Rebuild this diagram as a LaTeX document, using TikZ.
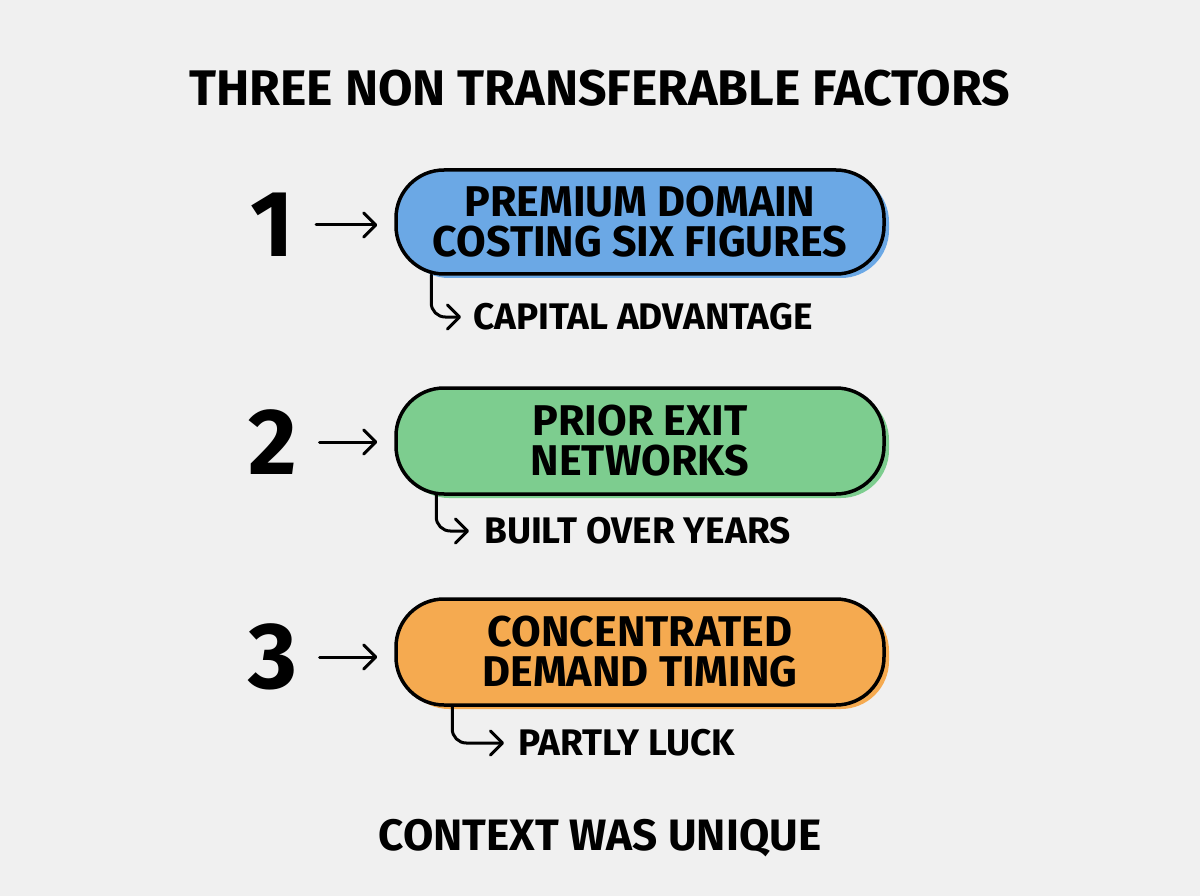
\documentclass[tikz,border=0pt]{standalone}
\usepackage{fontspec}
\setmainfont{Fira Sans}
\usetikzlibrary{positioning,arrows.meta,shadows}

\definecolor{bgcol}{HTML}{F0F0F0}
\definecolor{bluefill}{HTML}{6BA8E5}
\definecolor{greenfill}{HTML}{7DCD8F}
\definecolor{orangefill}{HTML}{F5AA50}

\tikzstyle{factor} = [draw=black, line width=3.5pt, rectangle, rounded corners=48pt, minimum width=488pt, minimum height=104pt, align=center, inner sep=0pt, font=\fontsize{43}{40}\selectfont\bfseries]
\tikzstyle{number} = [inner sep=0pt, font=\fontsize{94}{94}\selectfont\bfseries]
\tikzstyle{note} = [anchor=west, inner sep=0pt, font=\fontsize{37}{40}\selectfont\bfseries]
\tikzstyle{heading} = [inner sep=0pt, font=\fontsize{50}{54}\selectfont\bfseries]
\tikzstyle{pointer} = [-{Straight Barb[length=12pt,width=24pt,line width=3pt,round]}, line width=3pt, line cap=round]

\begin{document}
\begin{tikzpicture}[x=1pt, y=-1pt]
	\fill[bgcol] (0,0) rectangle (1200,896);
	\useasboundingbox (0,0) rectangle (1200,896);

	\node[heading] (title) at (600,88) {THREE NON TRANSFERABLE FACTORS};

	% factor 1
	\node[number] (n1) at (272,225) {1};
	\node[factor, fill=bluefill, general shadow={fill=bluefill, shadow xshift=5pt, shadow yshift=-4pt}] (f1) at (640,222) {PREMIUM DOMAIN\\COSTING SIX FIGURES};
	\node[note] (c1) at (473,317) {CAPITAL ADVANTAGE};
	\draw[pointer] ([xshift=22pt]n1.east) -- ([xshift=-17pt]f1.west |- n1.east);
	\draw[pointer, rounded corners=14pt] ([xshift=37pt, yshift=1pt]f1.south west) |- ([xshift=-12pt]c1.west);

	% factor 2
	\node[number] (n2) at (273,442) {2};
	\node[factor, fill=greenfill, general shadow={fill=greenfill, shadow xshift=5pt, shadow yshift=-4pt}, minimum height=106pt] (f2) at (640,441) {PRIOR EXIT\\NETWORKS};
	\node[note] (c2) at (484,531) {BUILT OVER YEARS};
	\draw[pointer] ([xshift=22pt]n2.east) -- ([xshift=-17pt]f2.west |- n2.east);
	\draw[pointer, rounded corners=14pt] ([xshift=42pt, yshift=1pt]f2.south west) |- ([xshift=-15pt]c2.west);

	% factor 3
	\node[number] (n3) at (273,657) {3};
	\node[factor, fill=orangefill, general shadow={fill=orangefill, shadow xshift=5pt, shadow yshift=-4pt}, minimum height=106pt] (f3) at (640,652) {CONCENTRATED\\DEMAND TIMING};
	\node[note] (c3) at (518,743) {PARTLY LUCK};
	\draw[pointer] ([xshift=22pt]n3.east) -- ([xshift=-17pt]f3.west |- n3.east);
	\draw[pointer, rounded corners=14pt] ([xshift=58pt, yshift=1pt]f3.south west) |- ([xshift=-14pt]c3.west);

	\node[heading, font=\fontsize{44}{48}\selectfont\bfseries] (footer) at (600,838) {CONTEXT WAS UNIQUE};
\end{tikzpicture}
\end{document}
